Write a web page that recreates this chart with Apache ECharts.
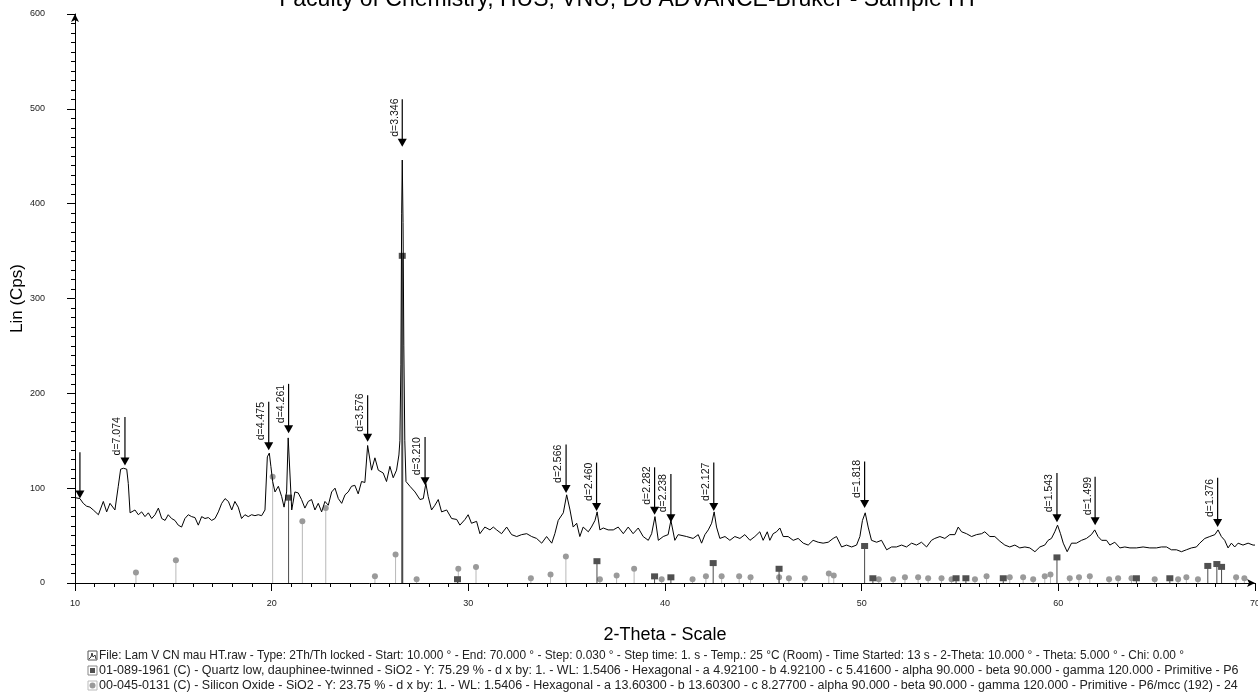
<!DOCTYPE html>
<html>
<head>
<meta charset="utf-8">
<script src="https://cdn.jsdelivr.net/npm/echarts@6/dist/echarts.min.js"></script>
<style>
html,body{margin:0;padding:0;background:#fff;}
#chart{width:1258px;height:696px;}
</style>
</head>
<body>
<div id="chart"></div>
<script>
// ---- measured pattern (2-Theta, Lin counts) ----
const twoTheta = [
10.00,10.25,10.42,10.59,10.76,10.93,11.19,11.44,11.61,11.78,12.03,12.20,12.32,12.46,12.63,12.71,12.80,13.05,13.22,13.39,13.56,13.73,13.90,14.07,14.24,14.41,14.58,14.74,14.91,15.08,15.25,15.42,15.59,15.76,15.93,16.10,16.27,16.44,16.61,16.78,16.95,17.12,17.29,17.46,17.63,17.80,17.97,18.13,18.30,18.47,18.64,18.81,18.98,19.15,19.32,19.49,19.66,19.78,19.88,19.96,20.05,20.17,20.34,20.51,20.63,20.76,20.84,20.93,21.02,21.18,21.35,21.52,21.69,21.86,22.03,22.20,22.37,22.54,22.71,22.88,23.05,23.22,23.39,23.56,23.73,23.89,24.06,24.23,24.40,24.57,24.74,24.88,25.08,25.25,25.42,25.67,25.84,26.01,26.18,26.35,26.47,26.52,26.57,26.61,26.64,26.68,26.72,26.77,26.83,27.03,27.29,27.54,27.71,27.84,27.96,28.13,28.30,28.47,28.64,28.90,29.15,29.41,29.57,29.83,29.99,30.16,30.42,30.59,30.84,31.10,31.27,31.44,31.69,31.95,32.20,32.46,32.71,32.97,33.22,33.47,33.73,33.98,34.24,34.40,34.57,34.83,35.00,35.17,35.33,35.51,35.67,35.84,36.10,36.26,36.44,36.55,36.69,36.86,37.11,37.37,37.62,37.88,38.13,38.38,38.64,38.89,39.15,39.32,39.49,39.66,39.91,40.16,40.30,40.50,40.67,40.76,41.10,41.43,41.69,41.86,42.03,42.20,42.37,42.50,42.62,42.79,43.05,43.30,43.55,43.81,44.06,44.32,44.57,44.82,44.99,45.20,45.33,45.50,45.67,45.84,46.01,46.26,46.52,46.77,47.03,47.28,47.53,47.79,48.04,48.30,48.55,48.72,48.98,49.23,49.49,49.74,49.91,50.04,50.18,50.33,50.50,50.76,51.01,51.27,51.52,51.77,52.03,52.28,52.54,52.79,53.04,53.30,53.55,53.72,53.98,54.23,54.48,54.74,54.91,55.08,55.33,55.59,55.84,56.10,56.26,56.52,56.77,57.03,57.28,57.53,57.79,58.04,58.30,58.55,58.81,59.06,59.31,59.48,59.65,59.82,59.96,60.11,60.25,60.45,60.67,60.92,61.18,61.43,61.68,61.85,62.02,62.20,62.45,62.62,62.87,63.13,63.38,63.64,63.97,64.31,64.65,64.99,65.24,65.50,65.75,66.01,66.26,66.51,66.77,67.02,67.19,67.45,67.70,67.96,68.12,68.29,68.46,68.63,68.80,68.97,69.14,69.39,69.65,69.90,70.00
];
const counts = [
90,89,84,81,80,77,72,86,75,84,77,102,120,121,120,105,74,77,72,75,70,74,68,72,79,68,66,72,68,66,61,59,68,72,70,69,61,70,68,69,66,68,75,84,89,86,77,86,80,68,72,70,72,71,72,71,77,133,137,123,107,96,102,91,80,96,153,152,77,96,95,88,79,86,88,77,84,75,86,82,96,100,89,84,93,96,102,103,94,107,106,145,119,132,119,116,107,123,111,119,135,150,230,390,446,380,250,150,107,102,96,88,89,105,91,77,82,88,75,77,68,67,61,67,72,63,65,52,59,56,59,56,52,59,51,49,51,52,49,47,42,49,42,52,66,74,93,77,59,63,49,59,54,59,66,75,56,58,56,56,59,52,59,52,58,49,45,52,70,45,49,51,66,45,51,51,49,47,51,42,51,56,63,75,59,47,49,45,49,47,51,45,49,54,45,54,45,52,54,58,49,49,45,47,42,40,45,43,42,43,47,49,38,40,38,40,49,66,74,59,45,43,45,35,38,38,40,38,42,40,43,38,45,47,49,47,51,51,59,54,52,49,51,52,54,49,49,44,40,38,40,37,38,37,33,38,40,45,47,54,61,52,42,33,42,42,45,47,51,56,49,45,45,40,43,37,38,37,37,38,37,37,38,38,35,35,33,35,37,38,42,47,49,51,56,49,45,37,42,38,42,40,42,40,40
];

// ---- peak search marks ----
const peakPos   = [10.25,12.54,19.85,20.86,24.88,26.64,27.80,34.97,36.52,39.47,40.30,42.48,50.15,59.93,61.87,68.10];
const peakTip   = [89,124,140,158,149,460,103,95,76,72,64,76,79,64,61,59];
const peakTop   = [138,175,191,210,198,510,154,146,127,122,115,127,128,116,112,111];
const peakLabel = ['','d=7.074','d=4.475','d=4.261','d=3.576','d=3.346','d=3.210','d=2.566','d=2.460','d=2.282','d=2.238','d=2.127','d=1.818','d=1.543','d=1.499','d=1.376'];

// ---- reference patterns ----
const quartzPos = [20.86,26.64,29.45,36.54,39.47,40.30,42.45,45.80,50.15,50.57,54.80,55.30,57.20,59.93,63.97,65.67,67.60,68.06,68.30];
const quartzInt = [90,345,4,23,7,6,21,15,39,5,5,5,5,27,5,5,18,20,17];
const silicaPos = [13.10,15.13,20.05,21.56,22.75,25.25,26.30,27.37,29.49,30.39,33.18,34.18,34.96,36.69,37.54,38.43,39.83,41.40,42.08,42.88,43.77,44.35,45.80,46.30,47.11,48.33,48.58,50.87,51.60,52.20,52.87,53.38,54.06,54.57,55.76,56.35,57.53,58.21,58.72,59.31,59.60,60.58,61.05,61.60,62.58,63.04,63.72,64.90,66.09,66.51,67.10,69.04,69.46];
const silicaInt = [11,24,112,65,79,7,30,4,15,17,5,9,28,4,8,15,4,4,7,7,7,6,6,5,5,10,8,4,4,6,6,5,5,4,4,7,6,6,4,7,9,5,6,7,4,5,5,4,4,6,4,6,5];

const titleText = 'Faculty of Chemistry, HUS, VNU, D8 ADVANCE-Bruker - Sample HT';
const footerLines = [
 'File: Lam V CN mau HT.raw - Type: 2Th/Th locked - Start: 10.000 ° - End: 70.000 ° - Step: 0.030 ° - Step time: 1. s - Temp.: 25 °C (Room) - Time Started: 13 s - 2-Theta: 10.000 ° - Theta: 5.000 ° - Chi: 0.00 °',
 '01-089-1961 (C) - Quartz low, dauphinee-twinned - SiO2 - Y: 75.29 % - d x by: 1. - WL: 1.5406 - Hexagonal - a 4.92100 - b 4.92100 - c 5.41600 - alpha 90.000 - beta 90.000 - gamma 120.000 - Primitive - P6',
 '00-045-0131 (C) - Silicon Oxide - SiO2 - Y: 23.75 % - d x by: 1. - WL: 1.5406 - Hexagonal - a 13.60300 - b 13.60300 - c 8.27700 - alpha 90.000 - beta 90.000 - gamma 120.000 - Primitive - P6/mcc (192) - 24'
];

const FONT = '"Liberation Sans", Arial, sans-serif';
const chart = echarts.init(document.getElementById('chart'));

const lineData = twoTheta.map((x, i) => [x, counts[i]]);
const peakData = peakPos.map((x, i) => [x, peakTip[i], peakTop[i]]);
const quartzData = quartzPos.map((x, i) => [x, quartzInt[i]]);
const silicaData = silicaPos.map((x, i) => [x, silicaInt[i]]);

function stickRender(kind) {
  return function (params, api) {
    const base = api.coord([api.value(0), 0]);
    const top = api.coord([api.value(0), api.value(1)]);
    const dark = kind === 'q';
    const children = [{
      type: 'line',
      shape: {x1: base[0], y1: base[1], x2: top[0], y2: top[1]},
      style: {stroke: dark ? '#4a4a4a' : '#b8b8b8', lineWidth: dark && api.value(1) > 100 ? 2 : 1}
    }];
    if (dark) {
      children.push({type: 'rect', shape: {x: top[0] - 3.5, y: top[1] - 3, width: 7, height: 6},
        style: {fill: '#505050'}});
    } else {
      children.push({type: 'circle', shape: {cx: top[0], cy: top[1], r: 3},
        style: {fill: '#9a9a9a'}});
    }
    return {type: 'group', children};
  };
}

const option = {
  animation: false,
  backgroundColor: '#fff',
  grid: {left: 75, right: 3, top: 14, bottom: 113, containLabel: false, outerBoundsMode: 'none'},
  xAxis: {
    type: 'value', min: 10, max: 70, interval: 10,
    name: '2-Theta - Scale', nameLocation: 'middle', nameGap: 43, nameMoveOverlap: false,
    nameTextStyle: {fontSize: 18, color: '#000', fontFamily: FONT},
    axisLine: {show: true, onZero: false, lineStyle: {color: '#000', width: 1}, symbol: ['none', 'arrow'], symbolSize: [6, 8]},
    axisTick: {show: true, length: 8, lineStyle: {color: '#000'}},
    minorTick: {show: true, splitNumber: 10, length: 4, lineStyle: {color: '#000'}},
    splitLine: {show: false},
    axisLabel: {fontSize: 9, margin: 16, color: '#222', fontFamily: FONT}
  },
  yAxis: {
    type: 'value', min: 0, max: 600, interval: 100,
    name: 'Lin (Cps)', nameLocation: 'middle', nameGap: 49, nameRotate: 90, nameMoveOverlap: false,
    nameTextStyle: {fontSize: 17, color: '#000', fontFamily: FONT},
    axisLine: {show: true, onZero: false, lineStyle: {color: '#000', width: 1}, symbol: ['none', 'arrow'], symbolSize: [6, 8]},
    axisTick: {show: true, length: 8, lineStyle: {color: '#000'}},
    minorTick: {show: true, splitNumber: 10, length: 4, lineStyle: {color: '#000'}},
    splitLine: {show: false},
    axisLabel: {fontSize: 9, margin: 30, color: '#222', fontFamily: FONT}
  },
  series: [
    {type: 'custom', name: 'silica', data: silicaData, renderItem: stickRender('s'), z: 1, silent: true},
    {type: 'custom', name: 'quartz', data: quartzData, renderItem: stickRender('q'), z: 2, silent: true},
    {type: 'line', name: 'pattern', data: lineData, showSymbol: false, symbol: 'none',
      lineStyle: {color: '#000', width: 1}, z: 3, silent: true},
    {type: 'custom', name: 'peaks', data: peakData, z: 4, silent: true,
      renderItem: function (params, api) {
        const tip = api.coord([api.value(0), api.value(1)]);
        const top = api.coord([api.value(0), api.value(2)]);
        const label = peakLabel[params.dataIndex];
        const ch = [
          {type: 'line', shape: {x1: tip[0], y1: top[1], x2: tip[0], y2: tip[1] - 6}, style: {stroke: '#000', lineWidth: 1.2}},
          {type: 'polygon', shape: {points: [[tip[0] - 4.5, tip[1] - 8], [tip[0] + 4.5, tip[1] - 8], [tip[0], tip[1]]]}, style: {fill: '#000'}}
        ];
        if (label) {
          ch.push({type: 'text', x: tip[0] - 2, y: tip[1] - 10, rotation: Math.PI / 2,
            style: {text: label, x: 0, y: 0, align: 'left', verticalAlign: 'bottom',
              font: '10.5px ' + FONT, fill: '#111'}});
        }
        return {type: 'group', children: ch};
      }}
  ],
  graphic: [
    {type: 'text', left: 'center', top: -12,
      style: {text: titleText, font: '23px ' + FONT, fill: '#000'}},
    // footer icons
    {type: 'group', x: 88, y: 651, children: [
      {type: 'rect', shape: {x: 0, y: 0, width: 9, height: 9}, style: {fill: '#fff', stroke: '#555', lineWidth: 1}},
      {type: 'polyline', shape: {points: [[1, 8], [3, 6], [4, 2], [5, 6], [7, 4], [8, 8]]}, style: {stroke: '#333', fill: null, lineWidth: 1}}
    ]},
    {type: 'group', x: 88, y: 666, children: [
      {type: 'rect', shape: {x: 0, y: 0, width: 9, height: 9}, style: {fill: '#fff', stroke: '#888', lineWidth: 1}},
      {type: 'rect', shape: {x: 2, y: 2, width: 5, height: 5}, style: {fill: '#505050'}}
    ]},
    {type: 'group', x: 88, y: 681, children: [
      {type: 'rect', shape: {x: 0, y: 0, width: 9, height: 9}, style: {fill: '#fff', stroke: '#bbb', lineWidth: 1}},
      {type: 'circle', shape: {cx: 4.5, cy: 4.5, r: 3}, style: {fill: '#9a9a9a'}}
    ]},
    {type: 'text', x: 99, y: 656, style: {text: footerLines[0], font: '11.9px ' + FONT, fill: '#222', verticalAlign: 'middle'}},
    {type: 'text', x: 99, y: 671, style: {text: footerLines[1], font: '12.5px ' + FONT, fill: '#222', verticalAlign: 'middle'}},
    {type: 'text', x: 99, y: 686, style: {text: footerLines[2], font: '12.5px ' + FONT, fill: '#222', verticalAlign: 'middle'}}
  ]
};
chart.setOption(option);
</script>
</body>
</html>
